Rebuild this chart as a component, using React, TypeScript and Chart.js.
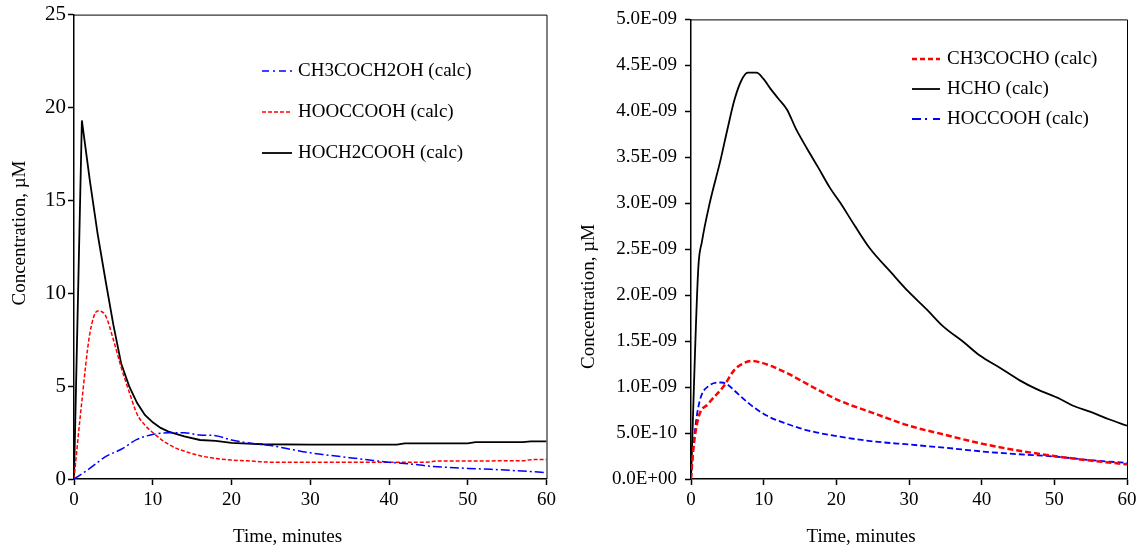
import React, { useEffect, useRef } from "react";
import { Chart, registerables } from "chart.js";

Chart.register(...registerables);

const FONT = "'Liberation Serif', 'Times New Roman', serif";

// ---------------- Left chart data (µM) ----------------
const xTicksLabel = "Time, minutes";
const yTitleLabel = "Concentration, µM";

const acetolTime = [0, 2, 4, 6, 8, 10, 12, 14, 16, 18, 20, 22, 25, 28, 30, 32, 35, 38, 40, 43, 45, 50, 53, 56, 58, 60];
const acetolVals = [0, 0.57, 1.2, 1.6, 2.13, 2.4, 2.49, 2.49, 2.37, 2.33, 2.1, 1.95, 1.8, 1.56, 1.41, 1.3, 1.15, 1.0, 0.9, 0.8, 0.7, 0.57, 0.52, 0.45, 0.4, 0.34];

const oxalicTime = [0, 1, 2, 3, 4, 5, 6, 7, 8, 9, 10, 11, 12, 13, 14, 16, 18, 20, 22, 24, 26, 30, 40, 45, 46, 57, 58, 60];
const oxalicVals = [0, 4.2, 7.8, 9.05, 8.8, 7.5, 6.0, 4.7, 3.5, 2.9, 2.5, 2.15, 1.87, 1.65, 1.5, 1.25, 1.11, 1.02, 0.98, 0.92, 0.9, 0.9, 0.9, 0.91, 0.97, 0.98, 1.04, 1.05];

const glycolicTime = [0, 1, 2, 3, 4, 5, 6, 7, 8, 9, 10, 11, 12, 14, 16, 18, 20, 22, 24, 30, 35, 41, 42, 50, 51, 57, 58, 60];
const glycolicVals = [0, 19.3, 16.1, 13.2, 10.7, 8.3, 6.2, 5.0, 4.1, 3.45, 3.05, 2.75, 2.55, 2.3, 2.1, 2.05, 1.95, 1.9, 1.87, 1.85, 1.85, 1.85, 1.92, 1.92, 1.98, 1.98, 2.03, 2.03];

// ---------------- Right chart data (µM) ----------------
const mglyoxTime = [0, 0.3, 1, 2.4, 4.5, 6, 7, 8.4, 9.5, 11, 13.5, 17, 20.5, 25, 30, 35, 40, 45, 50, 55, 60];
const mglyoxVals = [0, 0.31e-9, 0.66e-9, 0.82e-9, 1.01e-9, 1.19e-9, 1.25e-9, 1.285e-9, 1.27e-9, 1.23e-9, 1.14e-9, 0.99e-9, 0.85e-9, 0.72e-9, 0.58e-9, 0.48e-9, 0.385e-9, 0.31e-9, 0.25e-9, 0.2e-9, 0.16e-9];

const hchoTime = [0, 1, 1.5, 2.6, 4, 5, 6, 6.9, 7.8, 9, 10, 10.9, 12, 13.2, 14.5, 16, 17.5, 19.1, 20.5, 22.5, 24.6, 27.5, 29.9, 32.5, 34.7, 37.5, 39.8, 42.5, 45.3, 47.5, 50.8, 52.5, 55, 57.5, 60];
const hchoVals = [0, 2.29e-9, 2.58e-9, 3.01e-9, 3.45e-9, 3.8e-9, 4.13e-9, 4.33e-9, 4.42e-9, 4.42e-9, 4.35e-9, 4.25e-9, 4.14e-9, 4.02e-9, 3.8e-9, 3.59e-9, 3.39e-9, 3.17e-9, 3.01e-9, 2.76e-9, 2.51e-9, 2.25e-9, 2.04e-9, 1.84e-9, 1.66e-9, 1.49e-9, 1.34e-9, 1.21e-9, 1.07e-9, 0.98e-9, 0.87e-9, 0.8e-9, 0.73e-9, 0.65e-9, 0.58e-9];

const glyoxTime = [0, 0.55, 1.2, 2.4, 4.2, 5, 6, 8, 10.4, 13.2, 16, 20.5, 25, 30, 35, 40, 45, 50, 55, 60];
const glyoxVals = [0, 0.53e-9, 0.85e-9, 1.01e-9, 1.05e-9, 1.03e-9, 0.96e-9, 0.82e-9, 0.69e-9, 0.6e-9, 0.53e-9, 0.46e-9, 0.41e-9, 0.375e-9, 0.34e-9, 0.3e-9, 0.27e-9, 0.245e-9, 0.205e-9, 0.175e-9];

const xTickValues = [0, 10, 20, 30, 40, 50, 60];

function pts(t: number[], v: number[]) {
  return t.map((x, i) => ({ x, y: v[i] }));
}

function sciLabel(v: number): string {
  if (Math.abs(v) < 1e-15) return "0.0E+00";
  let exp = Math.floor(Math.log10(Math.abs(v)));
  let m = (v / Math.pow(10, exp)).toFixed(1);
  if (m === "10.0") {
    exp += 1;
    m = (v / Math.pow(10, exp)).toFixed(1);
  }
  const sign = exp < 0 ? "-" : "+";
  return `${m}E${sign}${String(Math.abs(exp)).padStart(2, "0")}`;
}

type LegendCfg = { x: number; y: number; rowGap: number; sample: number; gap: number; order: number[] };
type TitleCfg = { xText: string; xX: number; xY: number; yText: string; yX: number; yY: number };

function makePlugins(legend: LegendCfg, titles: TitleCfg) {
  const frame = {
    id: "frameBox",
    afterDatasetsDraw(chart: any) {
      const { ctx, chartArea } = chart;
      ctx.save();
      ctx.strokeStyle = "#000";
      ctx.lineWidth = 1;
      ctx.beginPath();
      ctx.moveTo(chartArea.left, chartArea.top + 0.5);
      ctx.lineTo(chartArea.right + 0.5, chartArea.top + 0.5);
      ctx.lineTo(chartArea.right + 0.5, chartArea.bottom);
      ctx.stroke();
      ctx.restore();
    },
  };
  const leg = {
    id: "customLegend",
    afterDraw(chart: any) {
      const ctx = chart.ctx;
      legend.order.forEach((dsIndex, i) => {
        const ds: any = chart.data.datasets[dsIndex];
        const yy = legend.y + i * legend.rowGap;
        ctx.save();
        ctx.strokeStyle = ds.borderColor;
        ctx.lineWidth = ds.borderWidth;
        ctx.setLineDash(ds.legendDash || ds.borderDash || []);
        ctx.beginPath();
        ctx.moveTo(legend.x, yy);
        ctx.lineTo(legend.x + legend.sample, yy);
        ctx.stroke();
        ctx.setLineDash([]);
        ctx.fillStyle = "#000";
        ctx.font = `19px ${FONT}`;
        ctx.textBaseline = "middle";
        ctx.textAlign = "left";
        ctx.fillText(ds.label, legend.x + legend.sample + legend.gap, yy);
        ctx.restore();
      });
    },
  };
  const axisTitles = {
    id: "axisTitles",
    afterDraw(chart: any) {
      const ctx = chart.ctx;
      ctx.save();
      ctx.fillStyle = "#000";
      ctx.font = `19px ${FONT}`;
      ctx.textAlign = "center";
      ctx.textBaseline = "middle";
      ctx.fillText(titles.xText, titles.xX, titles.xY);
      ctx.translate(titles.yX, titles.yY);
      ctx.rotate(-Math.PI / 2);
      ctx.fillText(titles.yText, 0, 0);
      ctx.restore();
    },
  };
  return [frame, leg, axisTitles];
}

type ChartProps = {
  left: number;
  width: number;
  datasets: any[];
  yMax: number;
  yStep: number;
  yFmt?: (v: number) => string;
  yTickSize: number;
  yTickPad: number;
  yWidth: number;
  padRight: number;
  padTop: number;
  legend: LegendCfg;
  titles: TitleCfg;
};

function PlotPanel(p: ChartProps) {
  const ref = useRef<HTMLCanvasElement | null>(null);
  useEffect(() => {
    if (!ref.current) return;
    const chart = new Chart(ref.current, {
      type: "line",
      data: { datasets: p.datasets },
      options: {
        animation: false,
        responsive: false,
        devicePixelRatio: 1,
        layout: { padding: { left: 0, right: p.padRight, top: p.padTop, bottom: 0 } },
        plugins: { legend: { display: false }, tooltip: { enabled: false } },
        elements: { point: { radius: 0 } },
        scales: {
          x: {
            type: "linear",
            min: 0,
            max: 60,
            afterBuildTicks: (s: any) => {
              s.ticks = xTickValues.map((value) => ({ value }));
            },
            afterFit: (s: any) => {
              s.height = 73;
            },
            ticks: { font: { family: FONT, size: 19 }, color: "#000", padding: 4, maxRotation: 0, autoSkip: false },
            grid: { drawOnChartArea: false, drawTicks: true, tickLength: 6, color: "#000", tickColor: "#000", tickWidth: 1.5 },
            border: { display: true, color: "#000", width: 1.5 },
          },
          y: {
            type: "linear",
            min: 0,
            max: p.yMax,
            afterFit: (s: any) => {
              s.width = p.yWidth;
            },
            ticks: {
              stepSize: p.yStep,
              font: { family: FONT, size: p.yTickSize },
              color: "#000",
              padding: p.yTickPad,
              callback: (v: any) => (p.yFmt ? p.yFmt(Number(v)) : String(v)),
            },
            grid: { drawOnChartArea: false, drawTicks: true, tickLength: 6, color: "#000", tickColor: "#000", tickWidth: 1.5 },
            border: { display: true, color: "#000", width: 1.5 },
          },
        },
      } as any,
      plugins: makePlugins(p.legend, p.titles) as any,
    });
    return () => chart.destroy();
  }, []);
  return (
    <div style={{ position: "absolute", left: p.left, top: 0, width: p.width, height: 552 }}>
      <canvas ref={ref} width={p.width} height={552} style={{ display: "block", width: p.width, height: 552 }} />
    </div>
  );
}

export default function App() {
  const leftDatasets = [
    {
      label: "CH3COCH2OH (calc)",
      data: pts(acetolTime, acetolVals),
      borderColor: "#0000ff",
      borderWidth: 1.5,
      borderDash: [9, 3, 2, 3],
      legendDash: [7, 4, 2, 4],
      cubicInterpolationMode: "monotone",
    },
    {
      label: "HOOCCOOH (calc)",
      data: pts(oxalicTime, oxalicVals),
      borderColor: "#ff0000",
      borderWidth: 1.5,
      borderDash: [4, 2],
      cubicInterpolationMode: "monotone",
    },
    {
      label: "HOCH2COOH (calc)",
      data: pts(glycolicTime, glycolicVals),
      borderColor: "#000000",
      borderWidth: 1.8,
      tension: 0,
    },
  ];
  const rightDatasets = [
    {
      label: "CH3COCHO (calc)",
      data: pts(mglyoxTime, mglyoxVals),
      borderColor: "#ff0000",
      borderWidth: 2.5,
      borderDash: [6, 3],
      legendDash: [5, 3],
      cubicInterpolationMode: "monotone",
    },
    {
      label: "HCHO (calc)",
      data: pts(hchoTime, hchoVals),
      borderColor: "#000000",
      borderWidth: 1.8,
      cubicInterpolationMode: "monotone",
    },
    {
      label: "HOCCOOH (calc)",
      data: pts(glyoxTime, glyoxVals),
      borderColor: "#0000ff",
      borderWidth: 1.8,
      borderDash: [6, 3],
      legendDash: [9, 4, 2, 6],
      cubicInterpolationMode: "monotone",
    },
  ];
  return (
    <div style={{ position: "absolute", left: 0, top: 0, width: 1142, height: 552, background: "#fff" }}>
      <PlotPanel
        left={0}
        width={560}
        datasets={leftDatasets}
        yMax={25}
        yStep={5}
        yTickSize={21}
        yTickPad={2}
        yWidth={74}
        padRight={13}
        padTop={14}
        legend={{ x: 262, y: 71, rowGap: 41, sample: 30, gap: 6, order: [0, 1, 2] }}
        titles={{ xText: xTicksLabel, xX: 287.5, xY: 537, yText: yTitleLabel, yX: 20, yY: 233 }}
      />
      <PlotPanel
        left={560}
        width={582}
        datasets={rightDatasets}
        yMax={5e-9}
        yStep={5e-10}
        yFmt={sciLabel}
        yTickSize={19}
        yTickPad={8}
        yWidth={131}
        padRight={15}
        padTop={16}
        legend={{ x: 352, y: 59, rowGap: 30, sample: 28, gap: 7, order: [0, 1, 2] }}
        titles={{ xText: xTicksLabel, xX: 301, xY: 537, yText: yTitleLabel, yX: 29, yY: 296.5 }}
      />
    </div>
  );
}
